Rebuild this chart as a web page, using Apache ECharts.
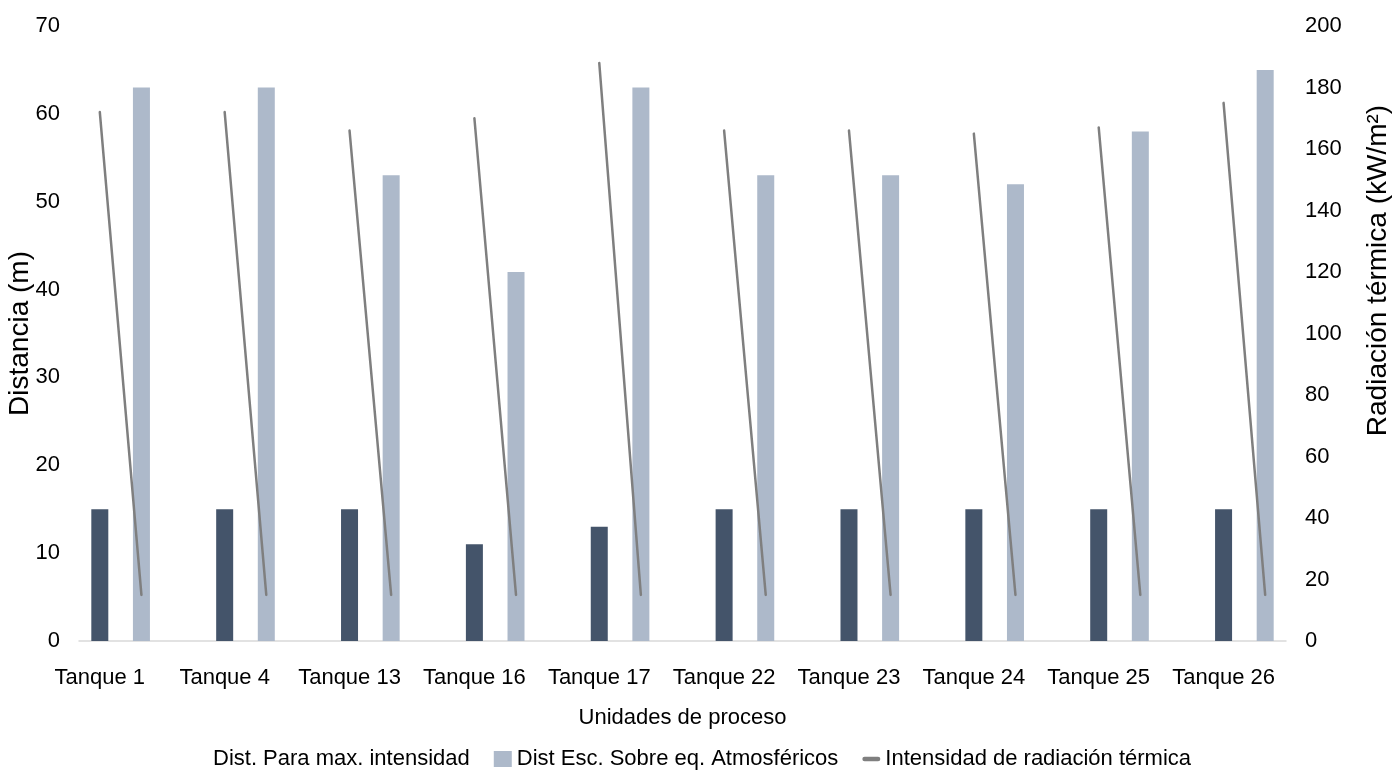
<!DOCTYPE html>
<html>
<head>
<meta charset="utf-8">
<title>Distancias y radiación térmica por tanque</title>
<script src="https://cdn.jsdelivr.net/npm/echarts@6/dist/echarts.min.js"></script>
<style>
  html, body { margin: 0; padding: 0; background: #ffffff; }
  #chart { width: 1398px; height: 773px; }
</style>
</head>
<body>
<div id="chart"></div>
<script>
// Process units (tanks)
const tanques = ['Tanque 1', 'Tanque 4', 'Tanque 13', 'Tanque 16', 'Tanque 17',
                 'Tanque 22', 'Tanque 23', 'Tanque 24', 'Tanque 25', 'Tanque 26'];

// Distance for maximum intensity (m)
const distMaxIntensidad = [15, 15, 15, 11, 13, 15, 15, 15, 15, 15];

// Escape distance over atmospheric equipment (m)
const distEscape = [63, 63, 53, 42, 63, 53, 53, 52, 58, 65];

// Thermal radiation intensity (kW/m²): at the max-intensity distance and at the escape distance
const radiacionMax = [172, 172, 166, 170, 188, 166, 166, 165, 167, 175];
const radiacionEscape = [15, 15, 15, 15, 15, 15, 15, 15, 15, 15];

// Axis tick values
const ticksDistancia = [0, 10, 20, 30, 40, 50, 60, 70];
const ticksRadiacion = [0, 20, 40, 60, 80, 100, 120, 140, 160, 180, 200];

// Each tank takes two slots on the category axis (max-intensity, escape),
// with an empty spacer slot between consecutive tanks
const slots = [];
const serieMax = [], serieEsc = [], serieRad = [];
tanques.forEach((t, i) => {
  slots.push(t, t + '\u200b');
  serieMax.push(distMaxIntensidad[i], null);
  serieEsc.push(null, distEscape[i]);
  serieRad.push(radiacionMax[i], radiacionEscape[i]);
  if (i < tanques.length - 1) {
    slots.push(t + '\u200b\u200b');
    serieMax.push(null);
    serieEsc.push(null);
    serieRad.push(null);
  }
});

const sans = "'Liberation Sans', Arial, sans-serif";

const chart = echarts.init(document.getElementById('chart'), null, { renderer: 'canvas' });
chart.setOption({
  backgroundColor: '#ffffff',
  animation: false,
  grid: { left: 79, right: 112, top: 26, bottom: 132, containLabel: false, outerBoundsMode: 'none' },
  legend: {
    top: 743,
    left: 185,
    itemWidth: 18,
    itemHeight: 16,
    itemGap: 24,
    textStyle: { fontFamily: sans, fontSize: 22, color: '#000000' },
    data: [
      { name: 'Dist. Para max. intensidad', icon: 'none' },
      { name: 'Dist Esc. Sobre eq. Atmosféricos', icon: 'rect' },
      { name: 'Intensidad de radiación térmica', icon: 'path://M3,0 H21 A3,3 0 0 1 21,6 H3 A3,3 0 0 1 3,0 Z' }
    ]
  },
  xAxis: {
    type: 'category',
    data: slots,
    boundaryGap: true,
    name: 'Unidades de proceso',
    nameLocation: 'middle',
    nameGap: 66,
    nameMoveOverlap: false,
    nameTextStyle: { fontFamily: sans, fontSize: 22, color: '#000000' },
    axisLine: { show: true, lineStyle: { color: '#d9d9d9', width: 1.5 } },
    axisTick: { show: false },
    axisLabel: {
      interval: 0,
      showMinLabel: true,
      showMaxLabel: false,
      margin: 26,
      fontFamily: sans,
      fontSize: 22,
      color: '#000000',
      formatter: (v, idx) => (idx % 3 === 0 ? v : '')
    },
    splitLine: { show: false }
  },
  yAxis: [
    {
      type: 'value',
      min: ticksDistancia[0],
      max: ticksDistancia[ticksDistancia.length - 1],
      interval: ticksDistancia[1] - ticksDistancia[0],
      name: 'Distancia (m)',
      nameLocation: 'middle',
      nameGap: 45,
      nameMoveOverlap: false,
      nameTextStyle: { fontFamily: sans, fontSize: 28, color: '#000000' },
      axisLine: { show: false },
      axisTick: { show: false },
      axisLabel: { margin: 19, fontFamily: sans, fontSize: 22, color: '#000000' },
      splitLine: { show: false }
    },
    {
      type: 'value',
      position: 'right',
      min: ticksRadiacion[0],
      max: ticksRadiacion[ticksRadiacion.length - 1],
      interval: ticksRadiacion[1] - ticksRadiacion[0],
      name: 'Radiación térmica (kW/m²)',
      nameLocation: 'middle',
      nameGap: 78,
      nameMoveOverlap: false,
      nameTextStyle: { fontFamily: sans, fontSize: 28, color: '#000000', padding: [0, 0, 0, 126] },
      axisLine: { show: false },
      axisTick: { show: false },
      axisLabel: { margin: 19, fontFamily: sans, fontSize: 22, color: '#000000' },
      splitLine: { show: false }
    }
  ],
  series: [
    {
      name: 'Dist. Para max. intensidad',
      type: 'bar',
      yAxisIndex: 0,
      data: serieMax,
      barWidth: 17,
      barGap: '-100%',
      itemStyle: { color: '#44546a' }
    },
    {
      name: 'Dist Esc. Sobre eq. Atmosféricos',
      type: 'bar',
      yAxisIndex: 0,
      data: serieEsc,
      barWidth: 17,
      barGap: '-100%',
      itemStyle: { color: '#adb9ca' }
    },
    {
      name: 'Intensidad de radiación térmica',
      type: 'line',
      yAxisIndex: 1,
      data: serieRad,
      connectNulls: false,
      symbol: 'none',
      lineStyle: { color: '#7f7f7f', width: 2.5, cap: 'round' },
      itemStyle: { color: '#7f7f7f' },
      z: 5
    }
  ]
});
</script>
</body>
</html>
